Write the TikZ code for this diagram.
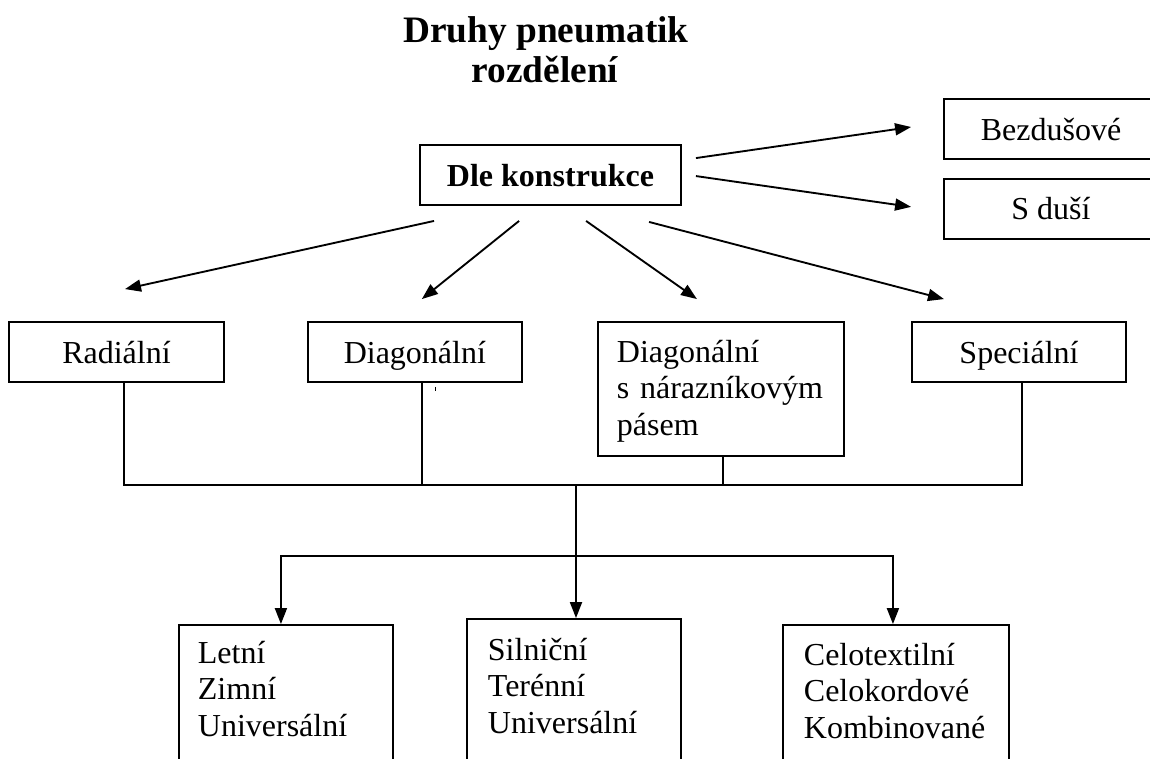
\documentclass[tikz,border=0pt]{standalone}
\usepackage{fontspec}
\setmainfont{Liberation Serif}
\usetikzlibrary{positioning}
\usetikzlibrary{calc}
\usetikzlibrary{arrows.meta}

\begin{document}
\begin{tikzpicture}[x=0.375pt, y=-0.375pt, line width=0.7pt,
    every node/.style={font=\fontsize{12}{13.8}\selectfont, inner sep=0pt},
    pbox/.style={draw, minimum height=22.5pt, text height=8.25pt, text depth=0pt},
    listbox/.style={draw, align=left, inner ysep=1.5pt},
    arr/.style={-{Triangle[length=6pt, width=4.5pt]}}]
    \useasboundingbox (0,0) rectangle (1150,758);
    \clip (0,0) rectangle (1150,758);
    % nadpis
    \node[font=\fontsize{14}{16}\selectfont\bfseries, anchor=base] (title) at (546,42) {Druhy pneumatik};
    \node[font=\fontsize{14}{16}\selectfont\bfseries, anchor=base] (subtitle) at (545,82) {rozdělení};
    \node[pbox, minimum width=97.875pt, font=\fontsize{12}{13.8}\selectfont\bfseries] (dle) at (550.5,175) {Dle konstrukce};
    \node[pbox, minimum width=80.25pt] (bez) at (1051,129) {Bezdušové};
    \node[pbox, minimum width=80.25pt, below=6.75pt of bez] (sdusi) {S duší};
    % druhy konstrukce
    \node[pbox, minimum width=80.625pt] (rad) at (116.5,352) {Radiální};
    \node[pbox, minimum width=80.25pt, right=30.75pt of rad] (diag) {Diagonální};
    \node[listbox, anchor=base west, inner xsep=7.125pt, text width=78pt, text height=13.5pt, text depth=33.75pt] (naraz) at (597,362) {Diagonální\\s nárazníkovým\\pásem};
    \node[pbox, minimum width=80.25pt] (spec) at (1019,352) {Speciální};
    % spodni rada
    \node[listbox, anchor=base west, inner xsep=7.125pt, text width=66pt, text height=12.75pt, text depth=56.25pt] (letni) at (178,663) {Letní\\Zimní\\Universální};
    \node[listbox, anchor=base west, inner xsep=7.875pt, text width=64.5pt, text height=13.875pt, text depth=56.25pt] (silnicni) at (466,660) {Silniční\\Terénní\\Universální};
    \node[listbox, anchor=base west, inner xsep=7.875pt, text width=69pt, text height=13.5pt, text depth=56.25pt] (celo) at (782,665) {Celotextilní\\Celokordové\\Kombinované};
    % sipky
    \draw[arr] ($(dle.north east)+(14,14)$) -- ($(bez.west)+(-32,-2)$);
    \draw[arr] ($(dle.north east)+(14,32)$) -- ($(sdusi.west)+(-32,-2)$);
    \draw[arr] ($(dle.south west)+(15,15)$) -- ($(rad.north)+(8.5,-32)$);
    \draw[arr] ($(dle.south west)+(100,15)$) -- ($(diag.north)+(7,-22)$);
    \draw[arr] ($(dle.south west)+(167,15)$) -- ($(naraz.north)+(-24,-22)$);
    \draw[arr] ($(dle.south west)+(230,16)$) -- ($(spec.north)+(-75,-22)$);
    \draw[line width=0.4pt] ($(diag.south)+(21,4)$) -- ++(0,4);
    % sbernice
    \draw ($(rad.south)+(7.5,0)$) -- ++(0,102) -| ($(spec.south)+(3,0)$);
    \draw ($(diag.south)+(7,0)$) -- ++(0,102);
    \draw ($(naraz.south)+(2,0)$) -- ++(0,28);
    \coordinate (hub) at (576,484);
    \coordinate (split) at (576,556);
    \draw[arr] (hub) -- (hub |- silnicni.north);
    \draw[arr] (split) -| ($(letni.north)+(-5,0)$);
    \draw[arr] (split) -| ($(celo.north)+(-3,0)$);
\end{tikzpicture}
\end{document}
